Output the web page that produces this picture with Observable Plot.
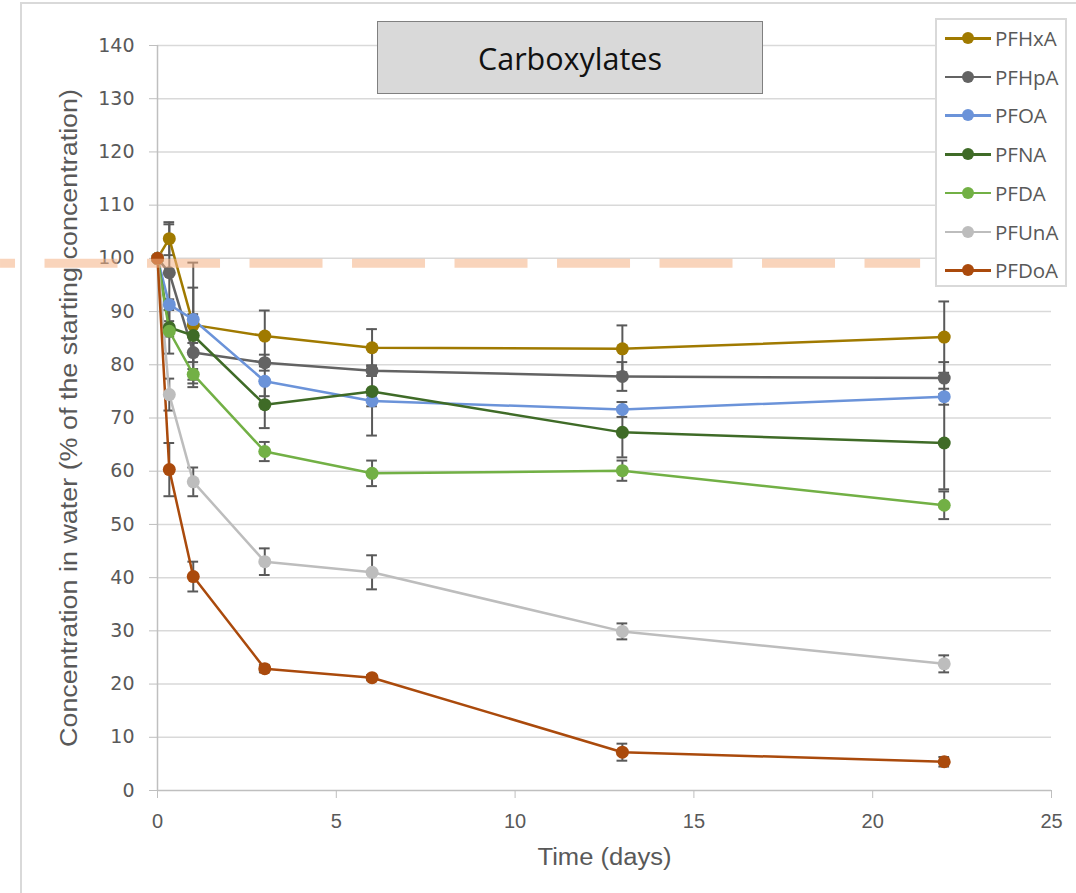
<!DOCTYPE html>
<html>
<head>
<meta charset="utf-8">
<script src="https://cdn.jsdelivr.net/npm/d3@7"></script>
<script src="https://cdn.jsdelivr.net/npm/@observablehq/plot@0.6"></script>
<style>
  html, body { margin: 0; padding: 0; background: #fff; }
  #wrap { position: relative; width: 1076px; height: 893px; overflow: hidden; font-family: "Liberation Sans", Arial, sans-serif; }
  #frame { position: absolute; left: 20px; top: 2px; width: 1100px; height: 1000px; border-left: 2px solid #d9d9d9; border-top: 2px solid #d9d9d9; box-sizing: border-box; }
  #chart { position: absolute; left: 0; top: 0; }
  #titlebox { position: absolute; left: 377px; top: 21px; width: 386px; height: 73px; box-sizing: border-box; background: #d9d9d9; border: 1.5px solid #808080; display: flex; align-items: center; justify-content: center; font-family: "Open Sans", "Liberation Sans", sans-serif; font-size: 30.5px; color: #111; }
  #legend { position: absolute; left: 935px; top: 18px; width: 132px; height: 269px; box-sizing: border-box; background: #fff; border: 2px solid #d9d9d9; }
  .item { position: absolute; left: 0; height: 20px; width: 130px; }
  .item .ln { position: absolute; left: 8px; top: 9px; width: 46px; height: 2.5px; }
  .item .dt { position: absolute; left: 25px; top: 4px; width: 12px; height: 12px; border-radius: 50%; }
  .item .tx { position: absolute; left: 58px; top: -1px; font-size: 20.5px; line-height: 22px; color: #595959; font-family: "Open Sans", "Liberation Sans", sans-serif; }
</style>
</head>
<body>
<div id="wrap">
  <div id="frame"></div>
  <div id="chart"></div>
  <div id="titlebox">Carboxylates</div>
  <div id="legend"></div>
</div>
<script>
// ---- data ----
const times = [0, 0.33, 1, 3, 6, 13, 22];
const seriesNames = ["PFHxA", "PFHpA", "PFOA", "PFNA", "PFDA", "PFUnA", "PFDoA"];
const seriesColors = ["#a07a00", "#636363", "#6b93d9", "#3f6b27", "#72b045", "#bdbdbd", "#aa4a0c"];

const PFHxA = [100, 103.7, 87.5, 85.4, 83.2, 83.0, 85.2];
const PFHpA = [100, 97.3, 82.3, 80.4, 78.9, 77.8, 77.5];
const PFOA  = [100, 91.3, 88.5, 76.9, 73.2, 71.6, 74.0];
const PFNA  = [100, 87.0, 85.5, 72.5, 75.0, 67.3, 65.3];
const PFDA  = [100, 86.3, 78.2, 63.7, 59.6, 60.1, 53.6];
const PFUnA = [100, 74.4, 58.0, 43.0, 41.0, 29.9, 23.8];
const PFDoA = [100, 60.3, 40.2, 22.9, 21.2, 7.2, 5.4];

const errPFHxA = [0, 3.1, 11.7, 4.8, 3.5, 4.4, 6.7];
const errPFHpA = [0, 9.1, 1.8, 1.5, 1.0, 2.7, 3.0];
const errPFOA  = [0, 1.0, 1.0, 2.8, 1.0, 1.4, 1.5];
const errPFNA  = [0, 4.9, 9.0, 4.4, 8.3, 4.7, 8.7];
const errPFDA  = [0, 1.0, 1.0, 1.8, 2.4, 1.9, 2.6];
const errPFUnA = [0, 3.0, 2.7, 2.5, 3.2, 1.5, 1.6];
const errPFDoA = [0, 5.0, 2.8, 0.7, 0.5, 1.6, 0.9];

const xTicks = [0, 5, 10, 15, 20, 25];
const yTicks = [0, 10, 20, 30, 40, 50, 60, 70, 80, 90, 100, 110, 120, 130, 140];
const xDomain = [0, 25];
const yDomain = [0, 140];
const xLabel = "Time (days)";
const yLabel = "Concentration in water (% of the starting concentration)";

// reference band (dashed, ~100%)
const refLevel = 99.1;
const refExtent = [-4.39, 21.34];

// ---- build table ----
const values = [PFHxA, PFHpA, PFOA, PFNA, PFDA, PFUnA, PFDoA];
const errors = [errPFHxA, errPFHpA, errPFOA, errPFNA, errPFDA, errPFUnA, errPFDoA];
const rows = [];
seriesNames.forEach((name, i) => {
  times.forEach((t, j) => {
    rows.push({series: name, t, v: values[i][j], e: errors[i][j]});
  });
});
const errRows = rows.filter(d => d.e > 0);
const capHalf = 0.15;

const colorScale = {domain: seriesNames, range: seriesColors};

const plot = Plot.plot({
  width: 1076,
  height: 893,
  marginLeft: 157,
  marginRight: 25,
  marginTop: 45,
  marginBottom: 103,
  style: {background: "transparent", overflow: "visible"},
  x: {domain: xDomain},
  y: {domain: yDomain},
  color: colorScale,
  marks: [
    Plot.gridY(yTicks.filter(d => d > 0), {stroke: "#d9d9d9", strokeOpacity: 1, strokeWidth: 1.5}),
    Plot.ruleX([xDomain[0]], {stroke: "#bfbfbf", strokeWidth: 1.5}),
    Plot.ruleY([yDomain[0]], {stroke: "#bfbfbf", strokeWidth: 1.5}),
    Plot.axisY({ticks: yTicks, tickSize: 8, tickPadding: 15, stroke: "#bfbfbf", fill: "#595959",
      fontSize: 19, label: null, fontFamily: "DejaVu Sans", letterSpacing: 1}),
    Plot.axisX({ticks: xTicks, tickSize: 8, tickPadding: 15, stroke: "#bfbfbf", fill: "#595959",
      fontSize: 20, label: null, fontFamily: "Liberation Sans, sans-serif"}),
    Plot.text([yLabel], {frameAnchor: "left", textAnchor: "middle", dx: -88, rotate: -90, fontSize: 23, fill: "#595959",
      fontFamily: "Liberation Sans, sans-serif"}),
    Plot.text([xLabel], {frameAnchor: "bottom", textAnchor: "middle", dy: 74, fontSize: 23, fill: "#595959",
      fontFamily: "Liberation Sans, sans-serif"}),
    // error bars
    Plot.ruleX(errRows, {x: "t", y1: d => d.v - d.e, y2: d => d.v + d.e, stroke: "#595959", strokeWidth: 2}),
    Plot.ruleY(errRows, {y: d => d.v + d.e, x1: d => d.t - capHalf, x2: d => d.t + capHalf, stroke: "#595959", strokeWidth: 2}),
    Plot.ruleY(errRows, {y: d => d.v - d.e, x1: d => d.t - capHalf, x2: d => d.t + capHalf, stroke: "#595959", strokeWidth: 2}),
    // lines and dots
    Plot.line(rows, {x: "t", y: "v", stroke: "series", z: "series", strokeWidth: 2.5}),
    Plot.dot(rows, {x: "t", y: "v", fill: "series", r: 6.5}),
    // reference band
    Plot.ruleY([{y: refLevel, x1: refExtent[0], x2: refExtent[1]}], {y: "y", x1: "x1", x2: "x2",
      stroke: "#f4b183", strokeOpacity: 0.55, strokeWidth: 9, strokeDasharray: "73 29.5", strokeDashoffset: 58})
  ]
});

// stretch axis titles to the extent of the original's font
plot.querySelectorAll("text").forEach(t => {
  const s = t.textContent;
  if (s === yLabel) { t.setAttribute("textLength", 658); t.setAttribute("lengthAdjust", "spacingAndGlyphs"); }
  else if (s === xLabel) { t.setAttribute("textLength", 134); t.setAttribute("lengthAdjust", "spacingAndGlyphs"); }
});
document.getElementById("chart").appendChild(plot);

// legend
const legend = document.getElementById("legend");
const legendTops = 8;
seriesNames.forEach((name, i) => {
  const it = document.createElement("div");
  it.className = "item";
  it.style.top = (legendTops + i * 38.7) + "px";
  it.innerHTML = `<div class="ln" style="background:${seriesColors[i]}"></div><div class="dt" style="background:${seriesColors[i]}"></div><div class="tx">${name}</div>`;
  legend.appendChild(it);
});
</script>
</body>
</html>
